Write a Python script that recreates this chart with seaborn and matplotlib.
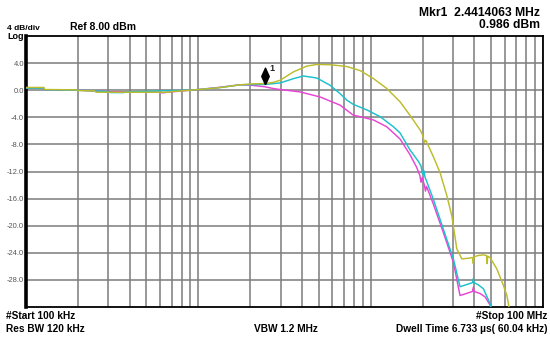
import numpy as np
import pandas as pd
import matplotlib
matplotlib.use("Agg")
import matplotlib.pyplot as plt
import matplotlib.transforms as mtransforms
from matplotlib.ticker import FixedLocator, NullFormatter
import seaborn as sns

# ---------------- data (frequency in MHz, level in dBm) ----------------
freq_yellow = [0.1, 0.127, 0.128, 0.198, 0.2, 0.25, 0.255, 0.68, 0.70, 0.9, 1.0, 1.3, 1.75,
               2.0, 2.4414, 2.72, 2.98, 3.56, 4.26, 4.87, 5.81, 7.27, 8.68, 10.4, 12.4,
               14.8, 16.9, 19.4, 20.0, 20.5, 20.9, 23.1, 25.3, 27.7, 29.6, 31.6, 33.8,
               37.0, 39.0, 39.4, 39.8, 42.0, 45.1, 47.0, 47.4, 47.8, 49.3, 54.0, 58.9,
               61.7, 63.0, 65.0]
db_yellow = [0.4, 0.4, 0.1, 0.05, -0.05, -0.1, -0.3, -0.3, -0.2, 0.0, 0.1, 0.35, 0.8,
             0.92, 0.986, 1.15, 1.46, 2.7, 3.56, 3.8, 3.76, 3.5, 2.9, 1.7, 0.25,
             -1.7, -3.7, -5.9, -6.6, -7.7, -7.4, -9.8, -12.2, -15.6, -18.6, -23.4, -24.9,
             -24.8, -24.7, -25.6, -24.6, -24.4, -24.3, -24.4, -25.6, -24.5, -24.7, -26.4, -28.8,
             -30.3, -31.5, -34.0]

freq_cyan = [0.1, 0.127, 0.128, 0.2, 0.3, 0.31, 0.37, 0.38, 0.55, 0.6, 0.9, 1.0, 1.3, 1.75,
             2.4414, 2.98, 3.56, 4.07, 4.87, 5.81, 6.64, 7.27, 7.94, 9.49, 11.34, 13.55,
             14.8, 16.9, 18.9, 19.6, 20.0, 20.3, 20.7, 21.1, 23.1, 26.4, 30.2, 33.0, 36.0,
             39.0, 39.4, 39.8, 42.0, 45.1, 49.3, 51.0]
db_cyan = [0.3, 0.3, 0.05, 0.0, -0.2, -0.35, -0.35, -0.25, -0.15, -0.1, 0.0, 0.1, 0.35, 0.8,
           0.85, 1.07, 1.7, 2.1, 1.8, 0.73, -0.5, -1.46, -2.1, -2.9, -3.9, -5.4,
           -6.3, -8.8, -10.5, -11.2, -12.4, -11.8, -12.9, -13.4, -16.1, -20.5, -24.9, -29.0, -28.7,
           -28.4, -27.8, -28.4, -28.7, -29.3, -31.5, -33.0]

freq_magenta = [0.1, 0.127, 0.128, 0.2, 0.3, 0.6, 0.62, 0.66, 0.9, 1.0, 1.3, 1.75, 2.0,
                2.4414, 2.72, 2.98, 3.89, 5.09, 6.64, 7.94, 8.68, 10.4, 12.4, 14.8, 16.9,
                18.5, 19.3, 19.6, 19.9, 20.5, 20.8, 21.1, 23.1, 26.4, 30.2, 33.0, 36.0,
                39.0, 39.4, 39.8, 43.0, 46.1, 49.3, 51.0]
db_magenta = [0.3, 0.3, 0.05, 0.0, -0.2, -0.3, -0.4, -0.3, 0.0, 0.1, 0.4, 0.8, 0.75,
              0.5, 0.25, 0.1, -0.25, -1.0, -2.2, -3.7, -3.9, -4.4, -5.4, -7.2, -9.5,
              -11.4, -12.6, -13.6, -12.9, -14.0, -14.9, -14.2, -16.8, -21.0, -25.4, -30.3, -30.0,
              -29.7, -29.1, -29.7, -30.0, -30.5, -31.7, -33.0]

ytick_values = [4, 0, -4, -8, -12, -16, -20, -24, -28]
ytick_labels = ["4.0", "0.0", "-4.0", "-8.0", "-12.0", "-16.0", "-20.0", "-24.0", "-28.0"]
x_grid = [m * 10.0 ** e for e in (-1, 0, 1) for m in range(1, 10)] + [100.0]

mkr_freq = 2.4414063
mkr_value = 0.986

# ---------------- figure ----------------
sns.set_style("white")
plt.rcParams['font.family'] = ['Liberation Sans', 'DejaVu Sans']

W, H = 550, 341
fig = plt.figure(figsize=(W / 100, H / 100), dpi=100)
L, R, T, B = 26, 543, 36, 307
ax = fig.add_axes([L / W, 1 - B / H, (R - L) / W, (B - T) / H])

df = pd.concat([
    pd.DataFrame({"freq": freq_magenta, "db": db_magenta, "trace": "Trace 3"}),
    pd.DataFrame({"freq": freq_cyan, "db": db_cyan, "trace": "Trace 2"}),
    pd.DataFrame({"freq": freq_yellow, "db": db_yellow, "trace": "Trace 1"}),
], ignore_index=True)

palette = {"Trace 1": "#bcbc2c", "Trace 2": "#1cc0cc", "Trace 3": "#e844d4"}
sns.lineplot(data=df, x="freq", y="db", hue="trace", palette=palette,
             hue_order=["Trace 3", "Trace 2", "Trace 1"], sort=False, estimator=None,
             legend=False, linewidth=1.05, ax=ax, zorder=3)

ax.set_xscale("log")
ax.set_xlim(0.1, 100)
ax.set_ylim(-32, 8)
ax.xaxis.set_major_locator(FixedLocator(x_grid))
ax.xaxis.set_minor_locator(FixedLocator([]))
ax.xaxis.set_major_formatter(NullFormatter())
ax.set_yticks(ytick_values)
ax.set_yticklabels(ytick_labels)
ax.tick_params(axis="both", length=0)
ax.tick_params(axis="y", pad=1.5, labelsize=5.4, labelcolor="#555555")
ax.set_xlabel("")
ax.set_ylabel("")
ax.grid(True, color="#7c7c7c", linewidth=1.1)
ax.set_axisbelow(True)
for side, sp in ax.spines.items():
    sp.set_visible(True)
    sp.set_color("black")
    sp.set_linewidth(1.3)
ax.spines["left"].set_linewidth(2.6)

# marker diamond above the trace point
diamond = [(0, -1), (0.45, 0), (0, 1), (-0.45, 0), (0, -1)]
trans = mtransforms.offset_copy(ax.transData, fig=fig, x=0, y=8, units="dots")
ax.plot([mkr_freq], [mkr_value], marker=diamond, markersize=12, color="black",
        linestyle="none", transform=trans, zorder=5, clip_on=False)
trans1 = mtransforms.offset_copy(ax.transData, fig=fig, x=7, y=15, units="dots")
ax.text(mkr_freq, mkr_value, "1", transform=trans1, fontsize=6.5, fontweight="bold",
        ha="center", va="center", zorder=5)

# ---------------- annotation text ----------------
def ftext(x, y, s, **kw):
    fig.text(x / W, 1 - y / H, s, fontweight="bold", color="black", **kw)

ftext(7, 28, "4 dB/div", fontsize=6, ha="left", va="center")
ftext(7, 36.5, "Log", fontsize=6.5, ha="left", va="center")
ftext(70, 27.5, "Ref 8.00 dBm", fontsize=7.5, ha="left", va="center")
ftext(540, 13.5, "Mkr1  2.4414063 MHz", fontsize=8.7, ha="right", va="center")
ftext(540, 24.5, "0.986 dBm", fontsize=8.7, ha="right", va="center")
ftext(6, 316, "#Start 100 kHz", fontsize=7.3, ha="left", va="center")
ftext(6, 329, "Res BW 120 kHz", fontsize=7.3, ha="left", va="center")
ftext(254, 329, "VBW 1.2 MHz", fontsize=7.3, ha="left", va="center")
ftext(547, 316, "#Stop 100 MHz", fontsize=7.3, ha="right", va="center")
ftext(547, 329, "Dwell Time 6.733 µs( 60.04 kHz)", fontsize=7.3, ha="right", va="center")

fig.savefig("out.png", dpi=100, facecolor="white")
